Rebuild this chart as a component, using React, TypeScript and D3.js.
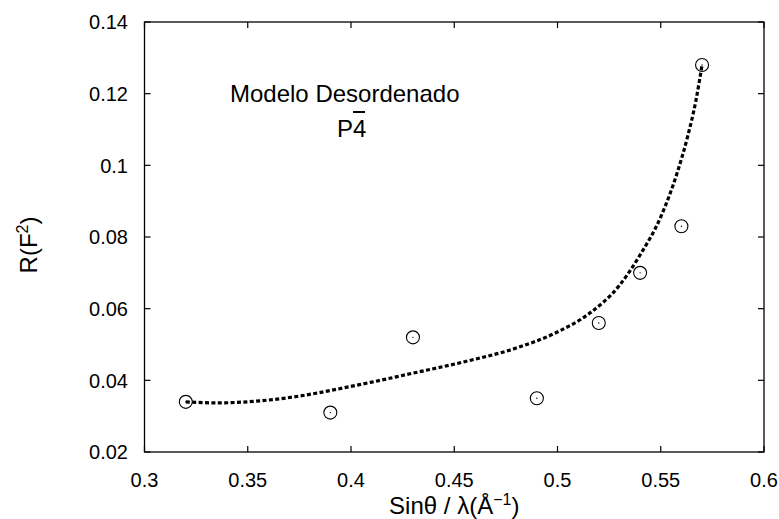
import React from "react";
import * as d3 from "d3";

const pointX = [0.32, 0.39, 0.43, 0.49, 0.52, 0.54, 0.56, 0.57];
const pointY = [0.034, 0.031, 0.052, 0.035, 0.056, 0.07, 0.083, 0.128];

const curveX = [0.32, 0.335, 0.36, 0.41, 0.43, 0.455, 0.48, 0.5, 0.515, 0.53, 0.54, 0.55, 0.558, 0.563, 0.567, 0.57];
const curveY = [0.034, 0.0337, 0.0345, 0.0395, 0.042, 0.0452, 0.049, 0.0535, 0.0585, 0.0665, 0.075, 0.0856, 0.098, 0.108, 0.118, 0.128];

const xTicks = [0.3, 0.35, 0.4, 0.45, 0.5, 0.55, 0.6];
const xTickLabels = ["0.3", "0.35", "0.4", "0.45", "0.5", "0.55", "0.6"];
const yTicks = [0.02, 0.04, 0.06, 0.08, 0.1, 0.12, 0.14];
const yTickLabels = ["0.02", "0.04", "0.06", "0.08", "0.1", "0.12", "0.14"];

const W = 779;
const H = 519;
const L = 144.5, R = 764, T = 22, B = 452;
const FONT = "'Liberation Sans', Arial, Helvetica, sans-serif";

export default function App() {
  const x = d3.scaleLinear().domain([0.3, 0.6]).range([L, R]);
  const y = d3.scaleLinear().domain([0.02, 0.14]).range([B, T]);
  const line = d3
    .line<number>()
    .x((_, i) => x(curveX[i]))
    .y((d) => y(d))
    .curve(d3.curveMonotoneX);
  const tk = 6;
  return (
    <svg
      width={W}
      height={H}
      style={{ position: "absolute", left: 0, top: 0, background: "#fff" }}
      fontFamily={FONT}
    >
      <rect x={0} y={0} width={W} height={H} fill="#fff" />
      {xTicks.map((t, i) => (
        <g key={"xt" + i}>
          <line x1={x(t)} x2={x(t)} y1={B} y2={B - tk} stroke="#000" strokeWidth={1.2} />
          <line x1={x(t)} x2={x(t)} y1={T} y2={T + tk} stroke="#000" strokeWidth={1.2} />
          <text x={x(t)} y={487} fontSize={20} textAnchor="middle" fill="#000">
            {xTickLabels[i]}
          </text>
        </g>
      ))}
      {yTicks.map((t, i) => (
        <g key={"yt" + i}>
          <line x1={L} x2={L + tk} y1={y(t)} y2={y(t)} stroke="#000" strokeWidth={1.2} />
          <line x1={R} x2={R - tk} y1={y(t)} y2={y(t)} stroke="#000" strokeWidth={1.2} />
          <text x={128} y={y(t)} dy="0.36em" fontSize={20} textAnchor="end" fill="#000">
            {yTickLabels[i]}
          </text>
        </g>
      ))}
      <rect x={L} y={T} width={R - L} height={B - T} fill="none" stroke="#000" strokeWidth={1.3} />
      <path
        d={line(curveY) || ""}
        fill="none"
        stroke="#000"
        strokeWidth={3.2}
        strokeDasharray="4,2.4"
      />
      {pointX.map((px, i) => (
        <g key={"p" + i}>
          <circle cx={x(px)} cy={y(pointY[i])} r={6.5} fill="none" stroke="#000" strokeWidth={1.1} />
          <circle cx={x(px)} cy={y(pointY[i])} r={0.7} fill="#000" />
        </g>
      ))}
      <text x={230} y={102} fontSize={24} fill="#000">
        Modelo Desordenado
      </text>
      <text x={337} y={137} fontSize={24} fill="#000">
        P4
      </text>
      <line x1={353} x2={365} y1={112} y2={112} stroke="#000" strokeWidth={2} />
      <text x={(L + R) / 2} y={514} fontSize={24} textAnchor="middle" fill="#000">
        Sinθ / λ(Å
        <tspan fontSize={16} dy={-9}>−1</tspan>
        <tspan dy={9}>)</tspan>
      </text>
      <text
        transform={`translate(37, 245) rotate(-90)`}
        fontSize={24}
        textAnchor="middle"
        fill="#000"
      >
        R(F
        <tspan fontSize={16} dy={-9}>2</tspan>
        <tspan dy={9}>)</tspan>
      </text>
    </svg>
  );
}
